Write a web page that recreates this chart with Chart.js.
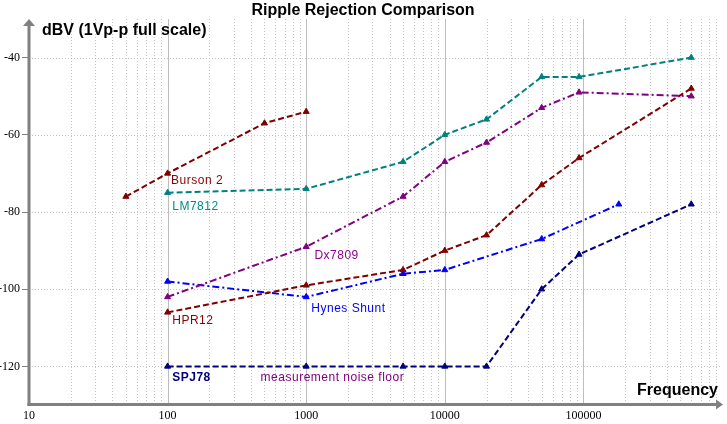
<!DOCTYPE html>
<html>
<head>
<meta charset="utf-8">
<title>Ripple Rejection Comparison</title>
<script src="https://cdn.jsdelivr.net/npm/chart.js@4.4.0/dist/chart.umd.min.js"></script>
<style>
    html, body { margin: 0; padding: 0; background: #fff; }
    #wrap { width: 727px; height: 424px; }
</style>
</head>
<body>
<div id="wrap"><canvas id="chartRipple" width="727" height="424"></canvas></div>
<script>
// --- DATA ---
const xTicks = [10, 100, 1000, 10000, 100000];
const yTicks = [-120, -100, -80, -60, -40];

const bursonFreq = [50, 100, 500, 1000];
const bursonDb   = [-76, -70, -57, -54];

const lm7812Freq = [100, 1000, 5000, 10000, 20000, 50000, 93000, 600000];
const lm7812Db   = [-75, -74, -67, -60, -56, -45, -45, -40];

const dx7809Freq = [100, 1000, 5000, 10000, 20000, 50000, 93000, 600000];
const dx7809Db   = [-102, -89, -76, -67, -62, -53, -49, -50];

const hpr12Freq  = [100, 1000, 5000, 10000, 20000, 50000, 93000, 600000];
const hpr12Db    = [-106, -99, -95, -90, -86, -73, -66, -48];

const hynesFreq  = [100, 1000, 5000, 10000, 50000, 180000];
const hynesDb    = [-98, -102, -96, -95, -87, -78];

const spj78Freq  = [100, 1000, 5000, 10000, 20000, 50000, 93000, 600000];
const spj78Db    = [-120, -120, -120, -120, -120, -100, -91, -78];

// text labels, anchored in data units (left edge / baseline)
const noteText = ['Burson 2', 'LM7812', 'Dx7809', 'HPR12', 'Hynes Shunt', 'SPJ78', 'measurement noise floor'];
const noteFreq = [106, 108, 1146, 108, 1089, 108, 469];
const noteDb   = [-72.7, -79.5, -92.2, -109, -105.9, -123.8, -123.8];

// --- STYLE ---
const noteStyle = [
    { color: '#8b0000', bold: false },
    { color: '#008b8b', bold: false },
    { color: '#900090', bold: false },
    { color: '#8b0000', bold: false },
    { color: '#0000ff', bold: false },
    { color: '#000080', bold: true },
    { color: '#800080', bold: false }
];
const DASH = [6, 3];
const DASH_DOT = [7, 3, 2, 3];
const AXIS_GRAY = '#808080';

function toPoints(xs, ys) {
    return xs.map((x, i) => ({ x: x, y: ys[i] }));
}

function series(label, xs, ys, color, dash) {
    return {
        label: label,
        data: toPoints(xs, ys),
        showLine: true,
        borderColor: color,
        backgroundColor: color,
        borderWidth: 2,
        borderDash: dash,
        pointStyle: 'triangle',
        pointRadius: 3.5,
        pointBorderWidth: 1,
        pointBorderColor: color,
        pointBackgroundColor: color,
        tension: 0
    };
}

// grid, axis lines with arrows, titles
const framePlugin = {
    id: 'frame',
    beforeDatasetsDraw(chart) {
        const ctx = chart.ctx;
        const area = chart.chartArea;
        const xs = chart.scales.x;
        const ys = chart.scales.y;
        ctx.save();
        ctx.lineWidth = 1;

        // minor verticals (dotted)
        ctx.strokeStyle = '#c4c4c4';
        ctx.setLineDash([1, 2]);
        for (let d = 10; d < 1e6; d *= 10) {
            for (let k = 2; k <= 9; k++) {
                const px = Math.round(xs.getPixelForValue(d * k)) + 0.5;
                if (px > area.right) continue;
                ctx.beginPath();
                ctx.moveTo(px, area.top);
                ctx.lineTo(px, area.bottom);
                ctx.stroke();
            }
        }
        // horizontals (dotted)
        yTicks.forEach(v => {
            const py = Math.round(ys.getPixelForValue(v)) + 0.5;
            ctx.beginPath();
            ctx.moveTo(area.left, py);
            ctx.lineTo(area.right, py);
            ctx.stroke();
        });
        // decade verticals (solid)
        ctx.setLineDash([]);
        ctx.strokeStyle = '#bdbdbd';
        xTicks.slice(1).forEach(v => {
            const px = Math.round(xs.getPixelForValue(v)) + 0.5;
            ctx.beginPath();
            ctx.moveTo(px, area.top);
            ctx.lineTo(px, area.bottom);
            ctx.stroke();
        });

        // axis lines
        ctx.strokeStyle = AXIS_GRAY;
        ctx.fillStyle = AXIS_GRAY;
        ctx.lineWidth = 3;
        const x0 = area.left;
        const y0 = area.bottom - 0.5;
        ctx.beginPath();
        ctx.moveTo(x0, y0 + 1.5);
        ctx.lineTo(x0, area.top + 6);
        ctx.stroke();
        ctx.beginPath();
        ctx.moveTo(x0 - 6, area.top + 7);
        ctx.lineTo(x0 + 6, area.top + 7);
        ctx.lineTo(x0, area.top);
        ctx.closePath();
        ctx.fill();

        ctx.beginPath();
        ctx.moveTo(x0 - 1.5, y0);
        ctx.lineTo(area.right - 5, y0);
        ctx.stroke();
        ctx.beginPath();
        ctx.moveTo(area.right - 6, y0 - 5);
        ctx.lineTo(area.right - 6, y0 + 5);
        ctx.lineTo(area.right + 1, y0);
        ctx.closePath();
        ctx.fill();
        ctx.restore();
    },
    afterDatasetsDraw(chart) {
        const ctx = chart.ctx;
        const area = chart.chartArea;
        const xs = chart.scales.x;
        const ys = chart.scales.y;
        ctx.save();

        // curve labels
        ctx.textBaseline = 'alphabetic';
        ctx.textAlign = 'left';
        ctx.letterSpacing = '0.5px';
        noteText.forEach((t, i) => {
            const st = noteStyle[i];
            ctx.font = (st.bold ? 'bold ' : '') + '12px "Liberation Sans", Arial, sans-serif';
            ctx.fillStyle = st.color;
            ctx.fillText(t, xs.getPixelForValue(noteFreq[i]), ys.getPixelForValue(noteDb[i]));
        });
        ctx.letterSpacing = '0px';

        // titles
        ctx.fillStyle = '#000';
        ctx.font = 'bold 16px "Liberation Sans", Arial, sans-serif';
        ctx.textAlign = 'center';
        ctx.fillText('Ripple Rejection Comparison', 363, 15);
        ctx.textAlign = 'left';
        ctx.fillText('dBV (1Vp-p full scale)', area.left + 13, 35);
        ctx.textAlign = 'right';
        ctx.fillText('Frequency', area.right - 4, area.bottom - 10);
        ctx.restore();
    }
};

new Chart(document.getElementById('chartRipple'), {
    type: 'scatter',
    data: {
        datasets: [
            series('Burson 2', bursonFreq, bursonDb, '#800000', DASH),
            series('LM7812', lm7812Freq, lm7812Db, '#008080', DASH),
            series('Dx7809', dx7809Freq, dx7809Db, '#800080', DASH_DOT),
            series('HPR12', hpr12Freq, hpr12Db, '#800000', DASH),
            series('Hynes Shunt', hynesFreq, hynesDb, '#0000ff', DASH_DOT),
            series('SPJ78', spj78Freq, spj78Db, '#000080', DASH)
        ]
    },
    options: {
        responsive: false,
        animation: false,
        layout: { padding: { top: 19, right: 1, left: 0, bottom: 0 } },
        plugins: {
            legend: { display: false },
            title: { display: false },
            tooltip: { enabled: false }
        },
        scales: {
            x: {
                type: 'logarithmic',
                min: 10,
                max: 1e6,
                afterBuildTicks: (scale) => { scale.ticks = xTicks.map(v => ({ value: v })); },
                afterFit: (scale) => { scale.height = 19; },
                grid: { display: false, drawTicks: false },
                border: { display: false },
                ticks: {
                    autoSkip: false,
                    maxRotation: 0,
                    padding: 4,
                    color: '#000',
                    font: { family: '"Liberation Serif", "Times New Roman", serif', size: 12 },
                    callback: (v) => String(v)
                }
            },
            y: {
                min: -130,
                max: -30,
                afterBuildTicks: (scale) => { scale.ticks = yTicks.map(v => ({ value: v })); },
                afterFit: (scale) => { scale.width = 29; },
                grid: {
                    drawOnChartArea: false,
                    color: 'rgba(0,0,0,0)',
                    tickColor: AXIS_GRAY,
                    tickLength: 7,
                    tickWidth: 1
                },
                border: { display: false },
                ticks: {
                    padding: 2,
                    color: '#000',
                    font: { family: '"Liberation Serif", "Times New Roman", serif', size: 12 },
                    callback: (v) => String(v)
                }
            }
        }
    },
    plugins: [framePlugin]
});
</script>
</body>
</html>
